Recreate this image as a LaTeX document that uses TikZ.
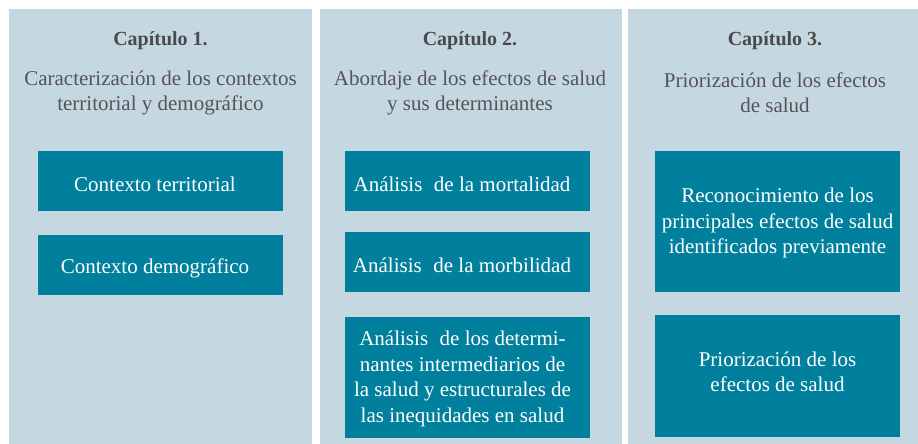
\documentclass[tikz,border=0pt]{standalone}
\usepackage{fontspec}
\setmainfont{Liberation Serif}
\definecolor{colbg}{HTML}{C5D8E1}
\definecolor{teal}{HTML}{00809C}
\definecolor{headgray}{HTML}{4A4A4A}
\definecolor{bodygray}{HTML}{555555}
\tikzset{
  colbox/.style={fill=colbg, draw=none},
  tealbox/.style={fill=teal, draw=none},
  head/.style={text=headgray, font=\fontsize{20}{25}\selectfont\bfseries, inner sep=0pt},
  sub/.style={text=bodygray, font=\fontsize{21}{25}\selectfont, align=center, inner sep=0pt},
  btext/.style={text=white, font=\fontsize{21}{25.5}\selectfont, align=center, inner sep=0pt},
}
\begin{document}
\begin{tikzpicture}[x=1pt,y=-1pt]
\fill[white] (0,0) rectangle (918,444);
\useasboundingbox (0,0) rectangle (918,444);
% columns
\fill[colbox] (9,9) rectangle (312,444);
\fill[colbox] (319.5,9) rectangle (621.5,444);
\fill[colbox] (628,9) rectangle (918,444);
% headings
\node[head] (h1) at (160.5,41) {Capítulo 1.};
\node[head] (h2) at (470,41) {Capítulo 2.};
\node[head] (h3) at (775,41) {Capítulo 3.};
\node[sub] (s1) at (160.5,93) {Caracterización de los contextos\\territorial y demográfico};
\node[sub] (s2) at (470,93) {Abordaje de los efectos de salud\\y sus determinantes};
\node[sub] (s3) at (775,93) {Priorización de los efectos\\de salud};
% column 1 boxes
\fill[tealbox] (38,151) rectangle (283,211);
\node[btext] (b11) at (155,184) {Contexto territorial};
\fill[tealbox] (38,235) rectangle (283,295);
\node[btext] (b12) at (155,268.5) {Contexto demográfico};
% column 2 boxes
\fill[tealbox] (345,151) rectangle (590,211);
\node[btext] (b21) at (462,184.5) {Análisis\hspace{0.55em}de la mortalidad};
\fill[tealbox] (345,232) rectangle (590,292);
\node[btext] (b22) at (462,265.5) {Análisis\hspace{0.55em}de la morbilidad};
\fill[tealbox] (345,317) rectangle (590,438);
\node[btext] (b23) at (462.5,379) {Análisis\hspace{0.55em}de los determi-\\nantes intermediarios de\\la salud y estructurales de\\las inequidades en salud};
% column 3 boxes
\fill[tealbox] (655,151) rectangle (900,291.5);
\node[btext] (b31) at (777.5,223) {Reconocimiento de los\\principales efectos de salud\\identificados previamente};
\fill[tealbox] (655,315) rectangle (900,436.5);
\node[btext] (b32) at (777.5,372) {Priorización de los\\efectos de salud};
\end{tikzpicture}
\end{document}
